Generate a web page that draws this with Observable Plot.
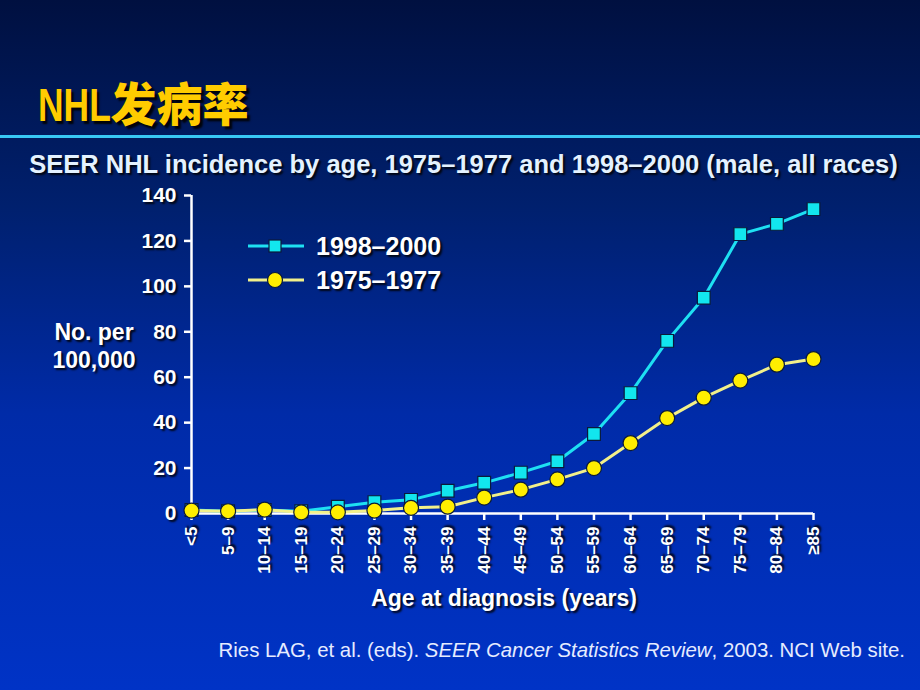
<!DOCTYPE html>
<html>
<head>
<meta charset="utf-8">
<script src="https://cdn.jsdelivr.net/npm/d3@7"></script>
<script src="https://cdn.jsdelivr.net/npm/@observablehq/plot@0.6"></script>
<style>
  html, body { margin: 0; padding: 0; }
  #slide {
    position: relative; width: 920px; height: 690px; overflow: hidden;
    background: linear-gradient(to bottom, #001040 0%, #00206e 30%, #002ba8 60%, #0033c6 100%);
    font-family: "Liberation Sans", Arial, sans-serif; color: #fff;
  }
  .shadow { text-shadow: 2px 2px 2px rgba(0,0,0,0.85); }
  #title {
    position: absolute; left: 38px; top: 78px; font-size: 46px; font-weight: bold;
    color: #ffcc00; white-space: nowrap; line-height: 1;
    text-shadow: 3px 3px 2px rgba(0,0,0,0.9);
  }
  #title .nhl { display: inline-block; transform: scaleX(0.77); transform-origin: left center; margin-right: -22px; }
  #title .cjk { font-family: "Noto Sans CJK SC", sans-serif; font-weight: 900; }
  #rule { position: absolute; left: 0; top: 135px; width: 920px; height: 3px; background: #38c8f4; }
  #subtitle {
    position: absolute; left: 0; width: 927px; top: 150px; text-align: center;
    font-size: 25.5px; font-weight: bold; color: #e4f2ff; white-space: nowrap;
  }
  #ylabel {
    position: absolute; left: 34px; width: 120px; top: 318px; text-align: center;
    font-size: 23px; font-weight: bold; line-height: 28px;
  }
  #xlabel {
    position: absolute; left: 284px; width: 440px; top: 585px; text-align: center;
    font-size: 23px; font-weight: bold;
  }
  #caption {
    position: absolute; right: 15px; top: 639px; font-size: 20.4px; color: #e6ecff; white-space: nowrap;
  }
  #plot { position: absolute; left: 0; top: 180px; width: 920px; }
  #plot svg text { text-shadow: 2px 2px 2px rgba(0,0,0,0.85); }
  #legend { position: absolute; left: 246px; top: 229px; }
  #legend .row { display: flex; align-items: center; height: 34px; }
  #legend .lab { font-size: 25px; font-weight: bold; margin-left: 10px; }
</style>
</head>
<body>
<div id="slide">
  <div id="title"><span class="nhl">NHL</span><span class="cjk">发病率</span></div>
  <div id="rule"></div>
  <div id="subtitle" class="shadow">SEER NHL incidence by age, 1975–1977 and 1998–2000 (male, all races)</div>
  <div id="plot"></div>
  <div id="ylabel" class="shadow">No. per<br>100,000</div>
  <div id="xlabel" class="shadow">Age at diagnosis (years)</div>
  <div id="caption">Ries LAG, et al. (eds). <i>SEER Cancer Statistics Review</i>, 2003. NCI Web site.</div>
  <div id="legend"></div>
</div>
<script>
const ages = ["<5","5–9","10–14","15–19","20–24","25–29","30–34","35–39","40–44","45–49","50–54","55–59","60–64","65–69","70–74","75–79","80–84","≥85"];
const rate1998 = [1.5, 1, 1.5, 1, 3, 5, 6, 10, 13.5, 18, 23, 35, 53, 76, 95, 123, 127.5, 134];
const rate1975 = [1.3, 1, 1.7, 0.5, 0.5, 1.3, 2.5, 3, 7, 10.5, 15, 20, 31, 42, 51, 58.5, 65.5, 68];
const yTicks = [0, 20, 40, 60, 80, 100, 120, 140];
const seriesNames = ["1998–2000", "1975–1977"];

const cyan = "#1ee0f2", cyanFill = "#12e6ee", yellowLine = "#f2f08a", yellowFill = "#ffee00", outline = "#0a1a3a";

const d1998 = ages.map((a, i) => ({age: a, v: rate1998[i]}));
const d1975 = ages.map((a, i) => ({age: a, v: rate1975[i]}));

const chart = Plot.plot({
  width: 920, height: 430,
  marginLeft: 191, marginRight: 107, marginTop: 15, marginBottom: 97,
  inset: 0,
  style: {background: "transparent", color: "#fff", fontFamily: "'Liberation Sans', Arial, sans-serif", overflow: "visible"},
  x: {type: "point", domain: ages, padding: 0, round: false},
  y: {domain: [0, 140]},
  marks: [
    Plot.axisY({ticks: yTicks, tickSize: 7, tickPadding: 8, fontSize: 21, fontWeight: "bold", stroke: "#fff", strokeWidth: 2.5, label: null}),
    Plot.axisX({tickRotate: -90, tickSize: 7, tickPadding: 6, fontSize: 17, fontWeight: "bold", stroke: "#fff", strokeWidth: 2.5, label: null}),
    Plot.ruleY([0], {stroke: "#fff", strokeWidth: 2.5}),
    Plot.ruleX([ages[0]], {stroke: "#fff", strokeWidth: 2.5}),
    Plot.line(d1998, {x: "age", y: "v", stroke: cyan, strokeWidth: 3}),
    Plot.dot(d1998, {x: "age", y: "v", symbol: "square", r: 7.2, fill: cyanFill, stroke: outline, strokeWidth: 1.2}),
    Plot.line(d1975, {x: "age", y: "v", stroke: yellowLine, strokeWidth: 3}),
    Plot.dot(d1975, {x: "age", y: "v", symbol: "circle", r: 7.5, fill: yellowFill, stroke: outline, strokeWidth: 1.2})
  ]
});
document.getElementById("plot").appendChild(chart);

const legend = document.getElementById("legend");
const swatches = [
  `<svg width="60" height="20"><line x1="2" y1="10" x2="58" y2="10" stroke="${cyan}" stroke-width="3"/><rect x="23" y="4" width="12" height="12" fill="${cyanFill}" stroke="${outline}" stroke-width="1.2"/></svg>`,
  `<svg width="60" height="20"><line x1="2" y1="10" x2="58" y2="10" stroke="${yellowLine}" stroke-width="3"/><circle cx="29" cy="10" r="7.5" fill="${yellowFill}" stroke="${outline}" stroke-width="1.2"/></svg>`
];
seriesNames.forEach((n, i) => {
  const row = document.createElement("div");
  row.className = "row";
  row.innerHTML = swatches[i] + `<span class="lab shadow">${n}</span>`;
  legend.appendChild(row);
});
</script>
</body>
</html>
